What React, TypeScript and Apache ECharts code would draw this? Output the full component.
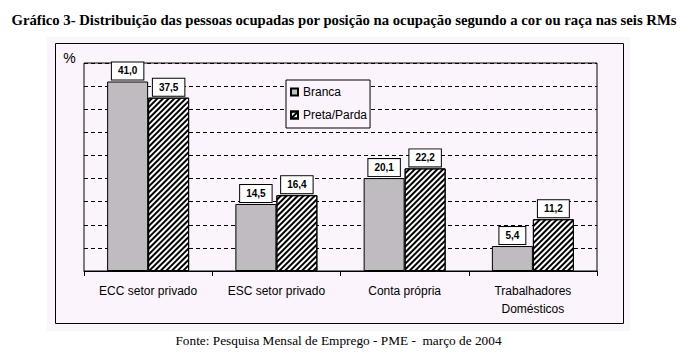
import React, { useEffect, useRef } from "react";
import * as echarts from "echarts";

const categories = [
  "ECC setor privado",
  "ESC setor privado",
  "Conta própria",
  "Trabalhadores\nDomésticos",
];
const branca = [41.0, 14.5, 20.1, 5.4];
const pretaParda = [37.5, 16.4, 22.2, 11.2];
const seriesNames = ["Branca", "Preta/Parda"];

const SANS = "'Liberation Sans', Arial, sans-serif";
const SERIF = "'Liberation Serif', 'Times New Roman', serif";
const PINK = "#fcf4fc";

const fmt = (p: any) => Number(p.value).toFixed(1).replace(".", ",");

const labelStyle = {
  show: true,
  position: "top",
  distance: 2,
  formatter: fmt,
  color: "#000",
  fontFamily: SANS,
  fontSize: 10,
  fontWeight: "bold",
  lineHeight: 11,
  backgroundColor: "#ffffff",
  borderColor: "#000",
  borderWidth: 1,
  padding: [3, 6, 3, 6],
};

export default function App() {
  const ref = useRef<HTMLDivElement>(null);
  useEffect(() => {
    if (!ref.current) return;
    const chart = echarts.init(ref.current, null, { renderer: "svg" });
    chart.setOption({
      animation: false,
      backgroundColor: "#ffffff",
      grid: {
        left: 84,
        right: 85,
        top: 63,
        bottom: 84,
        show: true,
        borderColor: "#000",
        borderWidth: 1,
        backgroundColor: "transparent",
        z: 1,
      },
      legend: {
        data: seriesNames,
        orient: "vertical",
        left: 286,
        top: 80,
        icon: "rect",
        itemWidth: 7,
        itemHeight: 7,
        itemGap: 9,
        padding: [5, 3, 6, 4],
        borderColor: "#000",
        borderWidth: 1,
        backgroundColor: PINK,
        textStyle: {
          color: "#000",
          fontFamily: SANS,
          fontSize: 12,
          lineHeight: 14,
        },
      },
      xAxis: {
        type: "category",
        data: categories,
        axisLine: { show: true, lineStyle: { color: "#000", width: 1 } },
        axisTick: { show: true, length: 5, lineStyle: { color: "#000" } },
        axisLabel: {
          color: "#000",
          fontFamily: SANS,
          fontSize: 12,
          lineHeight: 18,
          margin: 11,
          interval: 0,
        },
      },
      yAxis: {
        type: "value",
        min: 0,
        max: 45,
        interval: 5,
        axisLine: { show: false },
        axisTick: { show: false },
        axisLabel: { show: false },
        splitLine: {
          show: true,
          lineStyle: { color: "#000", type: [4, 3], width: 1 },
        },
      },
      series: [
        {
          name: seriesNames[0],
          type: "bar",
          data: branca,
          barWidth: 41,
          barGap: "0%",
          itemStyle: { color: "#bfbbc0", borderColor: "#000", borderWidth: 1 },
          label: labelStyle,
        },
        {
          name: seriesNames[1],
          type: "bar",
          data: pretaParda,
          barWidth: 41,
          barGap: "0%",
          itemStyle: {
            color: "#ffffff",
            borderColor: "#000",
            borderWidth: 1,
            decal: {
              symbol: "rect",
              symbolSize: 1,
              dashArrayX: [1, 0],
              dashArrayY: [2, 2],
              rotation: -Math.PI / 4,
              color: "#000",
            },
          },
          label: labelStyle,
        },
      ],
      graphic: [
        {
          type: "rect",
          z: -10,
          silent: true,
          shape: { x: 47, y: 37, width: 583, height: 294 },
          style: { fill: PINK },
        },
        {
          type: "rect",
          z: -5,
          silent: true,
          shape: { x: 55.5, y: 43.5, width: 568, height: 280 },
          style: { fill: "none", stroke: "#000", lineWidth: 1 },
        },
        {
          type: "text",
          x: 344,
          y: 20,
          silent: true,
          style: {
            text: "Gráfico 3- Distribuição das pessoas ocupadas por posição na ocupação segundo a cor ou raça nas seis RMs",
            font: `bold 14.7px ${SERIF}`,
            fill: "#000",
            textAlign: "center",
            textVerticalAlign: "middle",
          },
        },
        {
          type: "text",
          x: 69.5,
          y: 58,
          silent: true,
          style: {
            text: "%",
            font: `14px ${SANS}`,
            fill: "#000",
            textAlign: "center",
            textVerticalAlign: "middle",
          },
        },
        {
          type: "text",
          x: 338.5,
          y: 340,
          silent: true,
          style: {
            text: "Fonte: Pesquisa Mensal de Emprego - PME -  março de 2004",
            font: `13.3px ${SERIF}`,
            fill: "#000",
            textAlign: "center",
            textVerticalAlign: "middle",
          },
        },
      ],
    });
    return () => chart.dispose();
  }, []);
  return (
    <div
      ref={ref}
      style={{ position: "absolute", left: 0, top: 0, width: 682, height: 355 }}
    />
  );
}
